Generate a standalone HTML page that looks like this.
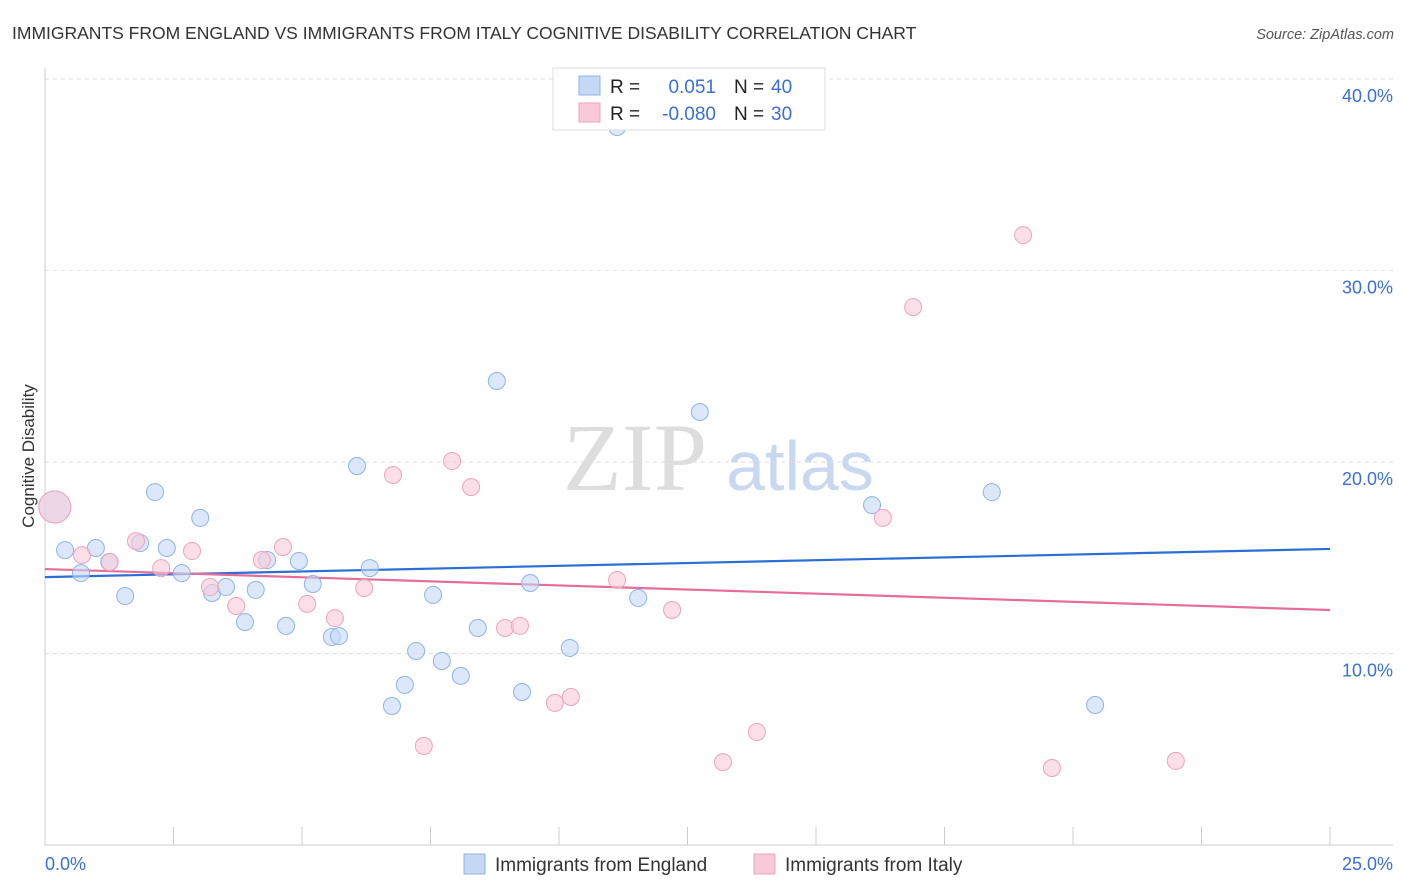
<!DOCTYPE html>
<html><head><meta charset="utf-8"><style>
body{margin:0;background:#fff;font-family:"Liberation Sans",sans-serif}
svg{display:block}
</style></head><body>
<svg id="chart" width="1406" height="892" viewBox="0 0 1406 892">
<text x="12" y="39" font-size="17.5" fill="#333">IMMIGRANTS FROM ENGLAND VS IMMIGRANTS FROM ITALY COGNITIVE DISABILITY CORRELATION CHART</text>
<text x="1394" y="39" font-size="14.5" fill="#555" font-style="italic" text-anchor="end">Source: ZipAtlas.com</text>
<text transform="translate(34,456) rotate(-90)" font-size="17" fill="#333" text-anchor="middle">Cognitive Disability</text>
<g>
<text x="635" y="490" font-size="96" fill="#ddd" font-family="Liberation Serif,serif" text-anchor="middle">ZIP</text>
<text x="800" y="490" font-size="70" fill="#c8d8f0" text-anchor="middle">atlas</text>
</g>
<g id="grid"></g><g id="axes"></g><g id="lines"></g><g id="pts"></g>
<g>
<rect x="553" y="68" width="272" height="62" fill="#fff" stroke="#ddd"/>
<rect x="579" y="76" width="21" height="19" fill="#c5d8f5" stroke="#8fb3e8"/>
<rect x="579" y="103" width="21" height="19" fill="#f8c9d8" stroke="#eea3bd"/>
<text x="610" y="93" font-size="19" fill="#222">R =</text>
<text x="716" y="93" font-size="19" fill="#3a6fd8" text-anchor="end">0.051</text>
<text x="734" y="93" font-size="19" fill="#222">N =</text>
<text x="771" y="93" font-size="19" fill="#3a6fd8">40</text>
<text x="610" y="120" font-size="19" fill="#222">R =</text>
<text x="716" y="120" font-size="19" fill="#3a6fd8" text-anchor="end">-0.080</text>
<text x="734" y="120" font-size="19" fill="#222">N =</text>
<text x="771" y="120" font-size="19" fill="#3a6fd8">30</text>
</g>
<g>
<rect x="464" y="854" width="21" height="20" fill="#c5d8f5" stroke="#8fb3e8"/>
<text x="495" y="871" font-size="19" fill="#333">Immigrants from England</text>
<rect x="754" y="854" width="21" height="20" fill="#f8c9d8" stroke="#eea3bd"/>
<text x="785" y="871" font-size="19" fill="#333">Immigrants from Italy</text>
</g>
</svg>
<script>
const englandX=[0.19,0.39,0.70,0.99,1.25,1.56,1.85,2.14,2.37,2.66,3.02,3.25,3.52,3.89,4.10,4.32,4.69,4.94,5.21,5.58,5.72,6.07,6.32,6.75,7.00,7.22,7.55,7.72,8.09,8.42,8.79,9.28,9.44,10.21,11.13,11.54,12.74,16.09,18.42,20.43];
const englandY=[17.65,15.40,14.20,15.51,14.78,13.00,15.77,18.43,15.51,14.20,17.08,13.16,13.47,11.64,13.32,14.88,11.44,14.83,13.63,10.86,10.91,19.79,14.46,7.26,8.36,10.13,13.06,9.61,8.83,11.33,24.23,7.99,13.68,10.29,37.49,12.90,22.61,17.75,18.43,7.31];
const italyX=[0.19,0.72,1.26,1.77,2.26,2.86,3.21,3.72,4.22,4.63,5.10,5.64,6.21,6.77,7.37,7.92,8.29,8.95,9.24,9.92,10.23,11.13,12.20,13.19,13.85,16.30,16.89,19.03,19.59,22.00];
const italyY=[17.65,15.14,14.78,15.87,14.46,15.35,13.47,12.48,14.88,15.56,12.59,11.85,13.42,19.32,5.17,20.05,18.69,11.33,11.44,7.42,7.73,13.84,12.27,4.33,5.90,17.08,28.09,31.85,4.02,4.39];
const englandTrend=[13.99,15.46];
const italyTrend=[14.41,12.27];
const yTicks=[10,20,30,40];
const yTickLabels=["10.0%","20.0%","30.0%","40.0%"];
const xTicks=[0,2.5,5,7.5,10,12.5,15,17.5,20,22.5,25];
const NS="http://www.w3.org/2000/svg";
const X=v=>45+v/25*1285, Y=v=>845-v*19.15;
function mk(p,t,a){const e=document.createElementNS(NS,t);for(const k in a)e.setAttribute(k,a[k]);document.getElementById(p).appendChild(e);return e;}
yTicks.forEach((t,i)=>{
 let l=mk('grid','line',{x1:45,x2:1393,y1:Y(t),y2:Y(t),stroke:'#ddd','stroke-dasharray':'4,4'});
 
 
 let tx=mk('grid','text',{x:1393,y:Y(t)+23,'font-size':18,fill:'#3a6fd8','text-anchor':'end'});tx.textContent=yTickLabels[i];
 
 
});
let ax=mk('axes','line',{x1:45,x2:45,y1:68,y2:845,stroke:'#ccc'});


let bx=mk('axes','line',{x1:45,x2:1393,y1:845,y2:845,stroke:'#ccc'});


xTicks.forEach(t=>{let l=mk('axes','line',{x1:X(t),x2:X(t),y1:827,y2:845,stroke:'#ccc'});
 
 });
let x0=mk('axes','text',{x:45,y:870,'font-size':18,fill:'#3a6fd8'});x0.textContent='0.0%';


let x1=mk('axes','text',{x:1393,y:870,'font-size':18,fill:'#3a6fd8','text-anchor':'end'});x1.textContent='25.0%';


function pts(xs,ys,fill,stroke,name){xs.forEach((x,i)=>{
 const c=mk('pts','circle',{cx:X(x),cy:Y(ys[i]),r:i===0?16:8.5,fill:fill,'fill-opacity':0.6,stroke:stroke,'stroke-width':1});
 
 });}
pts(englandX,englandY,'#c5d8f5','#8fb3e8','england-point');
pts(italyX,italyY,'#f8c9d8','#eea3bd','italy-point');
let tb=mk('lines','line',{x1:X(0),x2:X(25),y1:Y(englandTrend[0]),y2:Y(englandTrend[1]),stroke:'#2a6fd6','stroke-width':2.2});


let tp=mk('lines','line',{x1:X(0),x2:X(25),y1:Y(italyTrend[0]),y2:Y(italyTrend[1]),stroke:'#e66d98','stroke-width':2.2});


</script>
</body></html>
